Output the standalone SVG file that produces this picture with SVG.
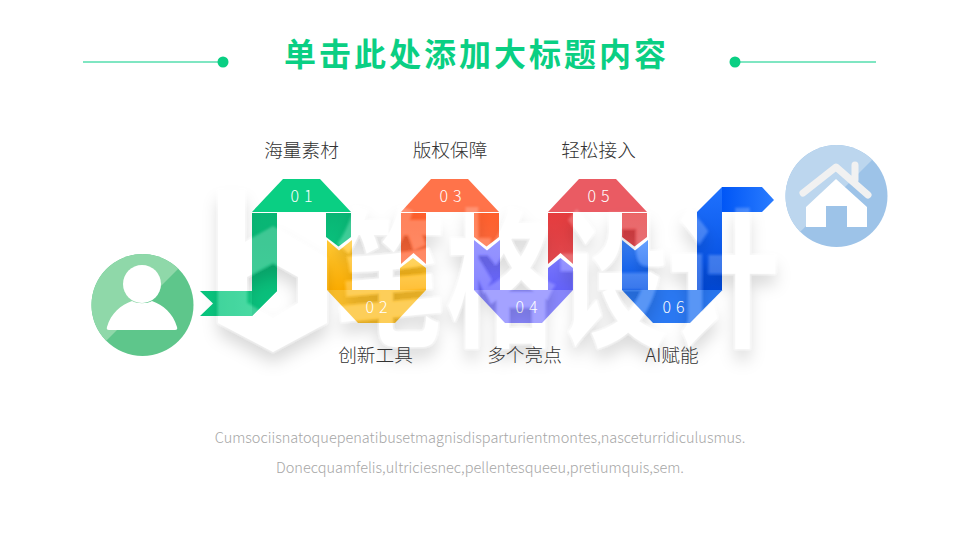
<svg xmlns="http://www.w3.org/2000/svg" width="960" height="540" viewBox="0 0 960 540">
<style>
.cn{font-family:"Noto Sans CJK SC","Noto Sans",sans-serif}
.lbl{font-size:18.67px;fill:#333;text-anchor:middle;font-weight:300}
.num{font-size:16px;fill:#fff;text-anchor:middle;letter-spacing:5px;font-weight:300}
.body{font-size:14.5px;fill:#a6a6a6;text-anchor:middle;font-weight:300}
.deco{stroke:#7fe6c2;stroke-width:2;fill:none}
.dot{fill:#0acf83}
</style>
<defs>
<linearGradient id="gTail" x1="0" x2="1" y1="0" y2="0"><stop offset="0" stop-color="#06c47c"/><stop offset="1" stop-color="#1dd48e"/></linearGradient>
<linearGradient id="gGreen" x1="0" x2="0" y1="0" y2="1"><stop offset="0" stop-color="#09b574"/><stop offset="1" stop-color="#09c27d"/></linearGradient>
<linearGradient id="gYellow" x1="0" x2="0" y1="0" y2="1"><stop offset="0" stop-color="#ffc935"/><stop offset="1" stop-color="#ffae00"/></linearGradient>
<linearGradient id="gOrange" x1="0" x2="0" y1="0" y2="1"><stop offset="0" stop-color="#ff5f2c"/><stop offset="1" stop-color="#ff6a3c"/></linearGradient>
<linearGradient id="gPurple" x1="0" x2="0" y1="0" y2="1"><stop offset="0" stop-color="#7a78ff"/><stop offset="1" stop-color="#6664ff"/></linearGradient>
<linearGradient id="gRed" x1="0" x2="0" y1="0" y2="1"><stop offset="0" stop-color="#e53c3e"/><stop offset="1" stop-color="#e0474d"/></linearGradient>
<linearGradient id="gBlue" x1="0" x2="0" y1="0" y2="1"><stop offset="0" stop-color="#3d86ff"/><stop offset="1" stop-color="#0050e6"/></linearGradient>
<linearGradient id="gBlue2" x1="0" x2="0" y1="0" y2="1"><stop offset="0" stop-color="#1f72ff"/><stop offset="1" stop-color="#0049dc"/></linearGradient>
<linearGradient id="gHead" x1="0" x2="1" y1="0" y2="0"><stop offset="0" stop-color="#0056f6"/><stop offset="1" stop-color="#2a7cff"/></linearGradient>
<clipPath id="cPerson"><circle cx="142.5" cy="305" r="51"/></clipPath>
<clipPath id="cHome"><circle cx="836.5" cy="196" r="51"/></clipPath>
<filter id="wm" x="-15%" y="-25%" width="130%" height="160%">
<feGaussianBlur in="SourceAlpha" stdDeviation="8" result="b"/>
<feOffset in="b" dx="0" dy="11" result="o"/>
<feFlood flood-color="#000" flood-opacity=".15"/>
<feComposite in2="o" operator="in" result="s"/>
<feComposite in="s" in2="SourceAlpha" operator="out" result="s2"/>
<feGaussianBlur in="SourceGraphic" stdDeviation="1" result="bg"/>
<feComponentTransfer in="bg" result="g"><feFuncA type="linear" slope=".22"/></feComponentTransfer>
<feMerge><feMergeNode in="s2"/><feMergeNode in="g"/></feMerge>
</filter>
</defs>
<rect width="960" height="540" fill="#fff"/>

<g id="title">
<path class="deco" d="M83 62H220"/><circle class="dot" cx="223" cy="62" r="5.500"/>
<path class="deco" d="M738 62H876"/><circle class="dot" cx="735" cy="62" r="5.500"/>
<text class="cn" x="476.500" y="66" font-size="32px" font-weight="700" fill="#0acf83" text-anchor="middle" letter-spacing="3">单击此处添加大标题内容</text>
</g>

<g id="node-person">
<circle cx="142.500" cy="305" r="51" fill="#5ec68b"/>
<polygon clip-path="url(#cPerson)" points="80,240 200,240 178,269 107,340 80,360" fill="#8fd8a9"/>
<circle cx="142" cy="284" r="19" fill="#fff"/>
<path d="M109 330H175Q178 330 177 327C173 313 163 305 152 301C147 304 137 304 132 301C121 305 111 313 107 327Q106 330 109 330Z" fill="#fff"/>
</g>

<g id="connectors">
<path id="tail" d="M200 291H252V213H277V291L252 316H200L213 303.500Z" fill="url(#gTail)"/>
<path d="M252 213H277V291L252 316Z" fill="url(#gGreen)"/>
</g>

<g id="step-01">
<path d="M326 213H351V237L338.500 246.500L326 237Z" fill="url(#gGreen)"/>
<path d="M252 212L283 179H320L351 212Z" fill="#0acf83"/>
<text class="cn num" x="304" y="202">01</text>
</g>

<g id="step-02">
<path d="M327 240L339 250.500L352 240V290H327Z" fill="url(#gYellow)"/>
<path d="M400 268L413 258L426 268V290H400Z" fill="url(#gYellow)"/>
<path d="M327 290H426L395 323H358Z" fill="#fdc02a"/>
<text class="cn num" x="379" y="313">02</text>
</g>

<g id="step-03">
<path d="M401 213H426V264L413.500 253L401 264Z" fill="url(#gOrange)"/>
<path d="M474 213H499V237L486.500 246.500L474 237Z" fill="url(#gOrange)"/>
<path d="M401 212L431 179H468L499 212Z" fill="#ff734a"/>
<text class="cn num" x="453" y="202">03</text>
</g>

<g id="step-04">
<path d="M474 240L487 250.500L500 240V290H474Z" fill="url(#gPurple)"/>
<path d="M548 268L560.500 258L573 268V290H548Z" fill="url(#gPurple)"/>
<path d="M474 290H573L542 323H505Z" fill="#8a88ff"/>
<text class="cn num" x="529" y="313">04</text>
</g>

<g id="step-05">
<path d="M548 213H573V264L560.500 253L548 264Z" fill="url(#gRed)"/>
<path d="M622 213H647V237L634.500 246.500L622 237Z" fill="url(#gRed)"/>
<path d="M548 212L579 179H616L647 212Z" fill="#ea5b63"/>
<text class="cn num" x="601" y="202">05</text>
</g>

<g id="step-06">
<path d="M622 240L635 250.500L648 240V290H622Z" fill="url(#gBlue)"/>
<path d="M697 212L722 187V290H697Z" fill="url(#gBlue2)"/>
<path d="M722 187H762L774 200L762 212H722Z" fill="url(#gHead)"/>
<path d="M622 290H722.500L690 323H653Z" fill="#2a78f2"/>
<text class="cn num" x="676" y="313">06</text>
</g>

<g id="watermark" filter="url(#wm)" fill="#fff">
<path fill-rule="evenodd" d="M218 190H245V242L273 226L327 258V323L273 352L218 323ZM247 277V303L273 318L298 303V277L273 263Z"/>
<text class="cn" x="0" y="0" font-size="150" font-weight="700" transform="translate(335 335) scale(.74 1)">笔格设计</text>
</g>

<g id="node-home">
<circle cx="836.500" cy="196" r="51" fill="#9dc3e8"/>
<polygon clip-path="url(#cHome)" points="780,140 890,140 872,160 802,230 780,250" fill="#bcd6ee"/>
<path d="M803 193L836 167L868 195M855 165V180" fill="none" stroke="#f1f1f1" stroke-width="7" stroke-linecap="round" stroke-linejoin="round"/>
<path d="M806 207L836 179L867 207V227H847V206H826V227H806Z" fill="#fff"/>
</g>

<g id="labels" class="cn">
<text class="lbl" x="301.500" y="157">海量素材</text>
<text class="lbl" x="450" y="157">版权保障</text>
<text class="lbl" x="598.500" y="157">轻松接入</text>
<text class="lbl" x="375.500" y="362">创新工具</text>
<text class="lbl" x="524.500" y="362">多个亮点</text>
<text class="lbl" x="672" y="362">AI赋能</text>
</g>

<g id="body" class="cn">
<text class="body" x="480" y="443">Cumsociisnatoquepenatibusetmagnisdisparturientmontes,nasceturridiculusmus.</text>
<text class="body" x="480" y="473">Donecquamfelis,ultriciesnec,pellentesqueeu,pretiumquis,sem.</text>
</g>
</svg>
